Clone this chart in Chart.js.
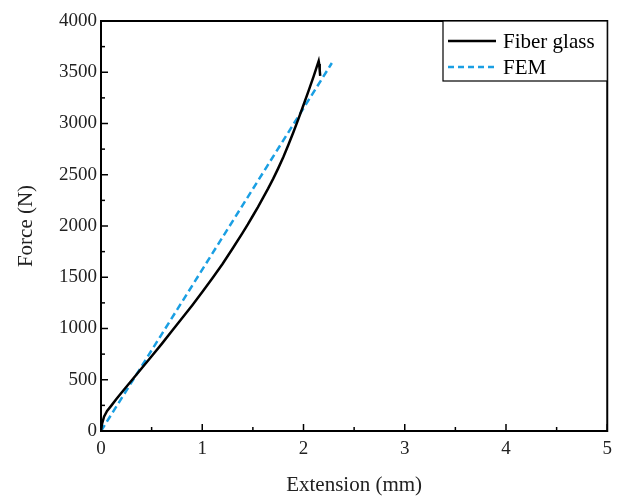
<!DOCTYPE html>
<html>
<head>
<meta charset="utf-8">
<script src="https://cdn.jsdelivr.net/npm/chart.js@4/dist/chart.umd.min.js"></script>
<style>
  html, body { margin: 0; padding: 0; background: #fff; }
  #wrap { width: 619px; height: 498px; }
</style>
</head>
<body>
<div id="wrap"><canvas id="chart" width="619" height="498"></canvas></div>
<script>
// ── Dados ─────────────────────────────────────────────
const FIBER_X = [0, 0.01, 0.03, 0.06, 0.1, 0.15, 0.2, 0.3, 0.4, 0.5, 0.6, 0.7, 0.8, 0.9, 1.0, 1.1, 1.2, 1.3, 1.4, 1.45, 1.5, 1.55, 1.6, 1.65, 1.7, 1.75, 1.8, 1.85, 1.9, 1.95, 2.0, 2.05, 2.1, 2.15, 2.155, 2.16, 2.165];
const FIBER_Y = [0, 70, 140, 195, 245, 310, 370, 490, 610, 730, 850, 975, 1100, 1225, 1355, 1490, 1630, 1780, 1935, 2015, 2100, 2185, 2275, 2365, 2460, 2562, 2670, 2790, 2915, 3045, 3180, 3318, 3460, 3610, 3580, 3520, 3465];
const FEM_X = [0, 2.28];
const FEM_Y = [0, 3590];
const X_TICKS = [0, 1, 2, 3, 4, 5];
const Y_TICKS = [0, 500, 1000, 1500, 2000, 2500, 3000, 3500, 4000];
const SERIES_NAMES = ["Fiber glass", "FEM"];
const SERIES_COLORS = ["#000000", "#1a9fe3"];

const SERIF = "'Liberation Serif', 'Times New Roman', serif";

function toPoints(xs, ys) {
  return xs.map((x, i) => ({ x, y: ys[i] }));
}

// ticks internos + moldura + legenda dentro do gráfico
const framePlugin = {
  id: "frame",
  afterDraw(chart) {
    const { ctx, chartArea: a, scales } = chart;
    const xs = scales.x, ys = scales.y;
    ctx.save();
    ctx.strokeStyle = "#000";
    ctx.lineWidth = 1.5;
    // ticks principais e secundários, para dentro
    for (let v = 0; v <= 5; v += 0.5) {
      const px = xs.getPixelForValue(v);
      const len = Number.isInteger(v) ? 7 : 4;
      ctx.beginPath();
      ctx.moveTo(px, a.bottom);
      ctx.lineTo(px, a.bottom - len);
      ctx.stroke();
    }
    for (let v = 0; v <= 4000; v += 250) {
      const py = ys.getPixelForValue(v);
      const len = v % 500 === 0 ? 7 : 4;
      ctx.beginPath();
      ctx.moveTo(a.left, py);
      ctx.lineTo(a.left + len, py);
      ctx.stroke();
    }
    // moldura
    ctx.lineWidth = 2;
    ctx.strokeRect(a.left, a.top, a.right - a.left, a.bottom - a.top);

    // legenda
    const lx = 443, ly = a.top, lw = a.right - lx, lh = 60;
    ctx.fillStyle = "#fff";
    ctx.fillRect(lx, ly, lw, lh);
    ctx.lineWidth = 1.2;
    ctx.strokeRect(lx, ly, lw, lh);
    const rows = [ly + 20, ly + 46];
    ctx.font = "21px " + SERIF;
    ctx.textBaseline = "middle";
    SERIES_NAMES.forEach((name, i) => {
      ctx.beginPath();
      ctx.strokeStyle = SERIES_COLORS[i];
      ctx.lineWidth = 2.5;
      ctx.setLineDash(i === 1 ? [6, 4] : []);
      ctx.moveTo(448, rows[i]);
      ctx.lineTo(496, rows[i]);
      ctx.stroke();
      ctx.setLineDash([]);
      ctx.fillStyle = "#000";
      ctx.fillText(name, 503, rows[i] + 1);
    });
    ctx.restore();
  },
};

new Chart(document.getElementById("chart"), {
  type: "scatter",
  data: {
    datasets: [
      {
        label: SERIES_NAMES[0],
        data: toPoints(FIBER_X, FIBER_Y),
        showLine: true,
        borderColor: SERIES_COLORS[0],
        borderWidth: 2.5,
        borderJoinStyle: "miter",
        pointRadius: 0,
        tension: 0,
      },
      {
        label: SERIES_NAMES[1],
        data: toPoints(FEM_X, FEM_Y),
        showLine: true,
        borderColor: SERIES_COLORS[1],
        borderWidth: 2.5,
        borderDash: [7, 4],
        pointRadius: 0,
      },
    ],
  },
  options: {
    responsive: false,
    animation: false,
    layout: { padding: { left: 0, right: 8, top: 21, bottom: 0 } },
    plugins: { legend: { display: false }, tooltip: { enabled: false } },
    scales: {
      x: {
        type: "linear",
        min: 0,
        max: 5,
        afterBuildTicks: (s) => { s.ticks = X_TICKS.map((v) => ({ value: v })); },
        afterFit: (s) => { s.height = 67; },
        grid: { display: false, drawTicks: false },
        border: { display: false },
        ticks: { color: "#222", font: { family: SERIF, size: 19 }, padding: 7, callback: (v) => String(v) },
        title: { display: true, text: "Extension (mm)", color: "#222", font: { family: SERIF, size: 21 }, padding: { top: 9, bottom: 0 } },
      },
      y: {
        type: "linear",
        min: 0,
        max: 4000,
        afterBuildTicks: (s) => { s.ticks = Y_TICKS.map((v) => ({ value: v })); },
        afterFit: (s) => { s.width = 101; },
        grid: { display: false, drawTicks: false },
        border: { display: false },
        ticks: { color: "#222", font: { family: SERIF, size: 19 }, padding: 4, callback: (v) => String(v) },
        title: { display: true, text: "Force (N)", color: "#222", font: { family: SERIF, size: 21 }, padding: { top: 14, bottom: 4 } },
      },
    },
  },
  plugins: [framePlugin],
});
</script>
</body>
</html>
